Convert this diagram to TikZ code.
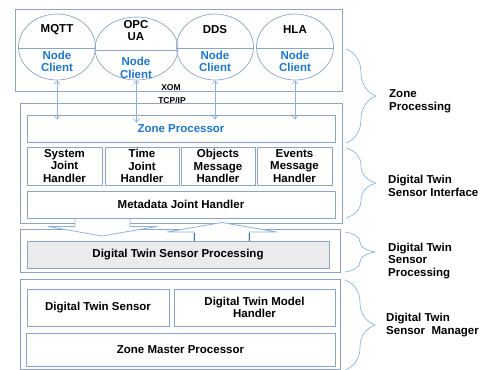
\documentclass[tikz,border=0pt]{standalone}
\usepackage{fontspec}
\setmainfont{Liberation Sans}
\usetikzlibrary{decorations.pathreplacing,calc,arrows.meta,shapes.geometric}
\definecolor{boxc}{RGB}{141,164,196}
\definecolor{arrc}{RGB}{140,178,222}
\definecolor{brc}{RGB}{140,180,225}
\definecolor{bluet}{RGB}{30,118,200}
\definecolor{grayf}{RGB}{235,235,235}
\definecolor{darkb}{RGB}{70,110,160}
\begin{document}
\begin{tikzpicture}[x=1pt,y=-1pt,
  font=\bfseries\fontsize{11.5}{12.6}\selectfont,
  box/.style={draw=boxc, line width=0.8pt, inner sep=0pt, align=center},
  ell/.style={draw=boxc, line width=0.7pt, ellipse, inner sep=0pt},
  lbl/.style={align=center, inner sep=0pt},
  blue/.style={lbl, text=bluet},
  arr/.style={draw=arrc, line width=0.6pt, {Straight Barb[length=3.5pt,width=6pt]}-{Straight Barb[length=3.5pt,width=6pt]}},
  blk/.style={draw=arrc, line width=0.8pt, fill=white},
  br/.style={draw=brc, line width=0.7pt, decorate, decoration={brace, amplitude=30pt}},
  side/.style={anchor=west, align=left, inner sep=0pt, font=\bfseries\fontsize{11.5}{12.8}\selectfont}
]
\useasboundingbox (0,0) rectangle (488,370);
% top box with node clients
\node[box, minimum width=327pt, minimum height=82pt] (top) at (178.5,50) {};
\node[ell, minimum width=77pt, minimum height=66pt] (mqtt) at (57,47) {};
\node[ell, minimum width=83pt, minimum height=63pt] (opc) at (136.5,48.5) {};
\node[ell, minimum width=77pt, minimum height=66pt] (dds) at (215,47) {};
\node[ell, minimum width=77pt, minimum height=66pt] (hla) at (295,47) {};
\foreach \e in {mqtt,opc,dds,hla}{
  \draw[boxc, line width=0.6pt] ($(\e.west)+(0,1.5)$) -- ($(\e.east)+(0,1.5)$);
}
\node[lbl] (mqttN) at (57,30) {MQTT};
\node[lbl] (opcN) at (136,30.5) {OPC\\UA};
\node[lbl] (ddsN) at (215,30) {DDS};
\node[lbl] (hlaN) at (295,30) {HLA};
\node[blue] (mqttC) at (57,61.5) {Node\\Client};
\node[blue] (opcC) at (136,68) {Node\\Client};
\node[blue] (ddsC) at (215,61.5) {Node\\Client};
\node[blue] (hlaC) at (295,61.5) {Node\\Client};
\node[lbl, font=\bfseries\fontsize{8.5}{9}\selectfont] (xom) at (171,88) {XOM};
\node[lbl, font=\bfseries\fontsize{8.5}{9}\selectfont] (tcp) at (172,101) {TCP/IP};
% zone processing / interface box
\node[box, minimum width=322pt, minimum height=120pt] (iface) at (181,163) {};
\node[box, minimum width=308pt, minimum height=27pt, text=bluet] (zp) at (181,128.5) {Zone Processor};
\node[box, minimum width=75pt, minimum height=38pt] (sys) at (64.5,166) {System\\Joint\\Handler};
\node[box, minimum width=74pt, minimum height=38pt] (time) at (142,166) {Time\\Joint\\Handler};
\node[box, minimum width=74pt, minimum height=38pt] (obj) at (218,166) {Objects\\Message\\Handler};
\node[box, minimum width=75pt, minimum height=38pt] (evt) at (294.5,166) {Events\\Message\\Handler};
\node[box, minimum width=308pt, minimum height=27pt] (meta) at (181,204.5) {Metadata Joint Handler};
% arrows between node clients and zone processor
\draw[arr] (mqtt.south) -- ($(mqtt.south |- zp.north)+(0,5)$);
\draw[arr] (opc.south) -- ($(opc.south |- zp.north)+(0,8)$);
\draw[arr] (dds.south) -- ($(dds.south |- zp.north)+(0,5)$);
\draw[arr] (hla.south) -- ($(hla.south |- zp.north)+(0,5)$);
% digital twin sensor processing
\node[box, minimum width=320pt, minimum height=43pt] (dtspo) at (180,250.5) {};
% block arrows
\draw[blk] (75,219) -- (75,226.5) -- (48,226.5) -- (102,236) -- (157,226.5) -- (130,226.5) -- (130,219);
\draw[blk] (194,240.5) -- (194,232) -- (167,232) -- (222,222.5) -- (277,232) -- (249,232) -- (249,240.5);
\draw[darkb, line width=0.6pt] (194,233) -- (194,241) (249,233) -- (249,241);
\node[box, fill=grayf, minimum width=302pt, minimum height=27pt] (dtsp) at (178,254.5) {Digital Twin Sensor Processing};
% manager
\node[box, minimum width=320pt, minimum height=90pt] (mgr) at (180,324) {};
\node[box, minimum width=142pt, minimum height=37pt] (dts) at (98,307.5) {Digital Twin Sensor};
\node[box, minimum width=161pt, minimum height=37pt] (dtmh) at (254.5,307.5) {Digital Twin Model\\Handler};
\node[box, minimum width=309pt, minimum height=33pt] (zmp) at (180.5,349.5) {Zone Master Processor};
% braces
\draw[br] (346,49) -- (346,143);
\draw[br] (346,148) -- (346,218);
\draw[br] (345,232) -- (345,272);
\draw[br] (345,280) -- (345,370);
\node[side] (l1) at (389,101.5) {Zone\\Processing};
\node[side] (l2) at (388,186) {Digital Twin\\Sensor Interface};
\node[side] (l3) at (388,261) {Digital Twin\\Sensor\\Processing};
\node[side] (l4) at (386,325) {Digital Twin\\Sensor\ \ Manager};
\end{tikzpicture}
\end{document}
